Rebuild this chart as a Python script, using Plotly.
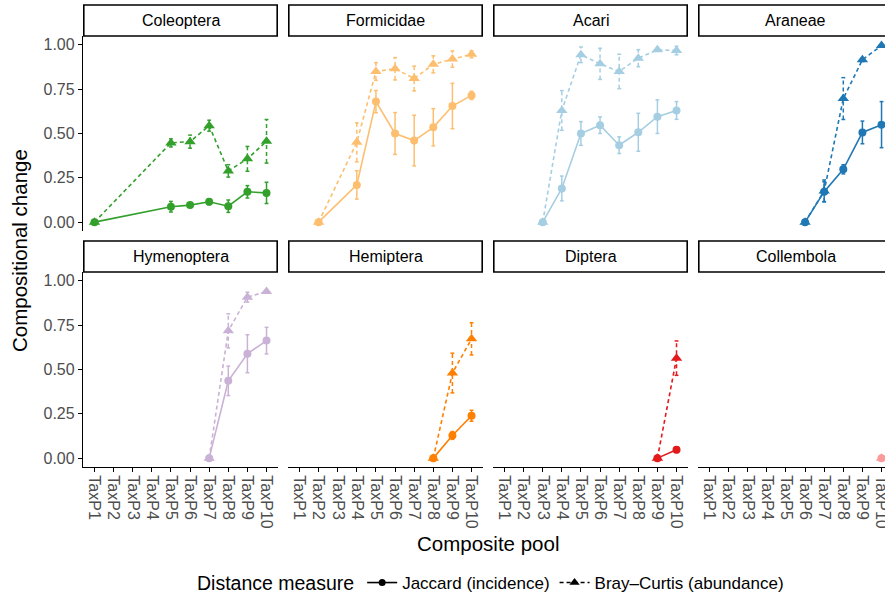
import plotly.graph_objects as go

# ---------------- data ----------------
pools = ["TaxP1", "TaxP2", "TaxP3", "TaxP4", "TaxP5", "TaxP6", "TaxP7", "TaxP8", "TaxP9", "TaxP10"]
taxa = ["Coleoptera", "Formicidae", "Acari", "Araneae",
        "Hymenoptera", "Hemiptera", "Diptera", "Collembola"]
y_ticks = [0, 0.25, 0.5, 0.75, 1.0]
y_tick_labels = ["0.00", "0.25", "0.50", "0.75", "1.00"]

coleoptera_pool = ["TaxP1", "TaxP5", "TaxP6", "TaxP7", "TaxP8", "TaxP9", "TaxP10"]
coleoptera_jac = [0, 0.087, 0.096, 0.115, 0.09, 0.171, 0.165]
coleoptera_jac_se = [0, 0.03, 0.01, 0.017, 0.035, 0.035, 0.06]
coleoptera_bc = [0, 0.447, 0.454, 0.544, 0.289, 0.357, 0.456]
coleoptera_bc_se = [0, 0.023, 0.037, 0.031, 0.035, 0.07, 0.123]

formicidae_pool = ["TaxP2", "TaxP4", "TaxP5", "TaxP6", "TaxP7", "TaxP8", "TaxP9", "TaxP10"]
formicidae_jac = [0, 0.21, 0.68, 0.50, 0.46, 0.535, 0.655, 0.715]
formicidae_jac_se = [0, 0.08, 0.063, 0.118, 0.143, 0.105, 0.128, 0.023]
formicidae_bc = [0, 0.45, 0.85, 0.865, 0.81, 0.89, 0.92, 0.947]
formicidae_bc_se = [0, 0.11, 0.05, 0.063, 0.07, 0.048, 0.046, 0.02]

acari_pool = ["TaxP3", "TaxP4", "TaxP5", "TaxP6", "TaxP7", "TaxP8", "TaxP9", "TaxP10"]
acari_jac = [0, 0.19, 0.50, 0.547, 0.434, 0.507, 0.595, 0.63]
acari_jac_se = [0, 0.07, 0.067, 0.047, 0.047, 0.107, 0.095, 0.05]
acari_bc = [0, 0.63, 0.944, 0.893, 0.85, 0.925, 0.972, 0.968]
acari_bc_se = [0, 0.112, 0.044, 0.088, 0.097, 0.048, 0.008, 0.024]

araneae_pool = ["TaxP6", "TaxP7", "TaxP8", "TaxP9", "TaxP10"]
araneae_jac = [0, 0.172, 0.298, 0.506, 0.55]
araneae_jac_se = [0, 0.056, 0.026, 0.064, 0.13]
araneae_bc = [0, 0.176, 0.697, 0.916, 0.996]
araneae_bc_se = [0, 0.062, 0.118, 0.01, 0.004]

hymenoptera_pool = ["TaxP7", "TaxP8", "TaxP9", "TaxP10"]
hymenoptera_jac = [0, 0.436, 0.589, 0.663]
hymenoptera_jac_se = [0, 0.083, 0.107, 0.075]
hymenoptera_bc = [0, 0.718, 0.908, 0.94]
hymenoptera_bc_se = [0, 0.096, 0.028, 0.005]

hemiptera_pool = ["TaxP8", "TaxP9", "TaxP10"]
hemiptera_jac = [0, 0.128, 0.239]
hemiptera_jac_se = [0, 0.022, 0.031]
hemiptera_bc = [0, 0.48, 0.673]
hemiptera_bc_se = [0, 0.112, 0.091]

diptera_pool = ["TaxP9", "TaxP10"]
diptera_jac = [0, 0.047]
diptera_jac_se = [0, 0.015]
diptera_bc = [0, 0.564]
diptera_bc_se = [0, 0.097]

collembola_pool = ["TaxP10"]
collembola_jac = [0]
collembola_jac_se = [0]
collembola_bc = [0]
collembola_bc_se = [0]

series = {
    "Coleoptera": (coleoptera_pool, coleoptera_jac, coleoptera_jac_se, coleoptera_bc, coleoptera_bc_se),
    "Formicidae": (formicidae_pool, formicidae_jac, formicidae_jac_se, formicidae_bc, formicidae_bc_se),
    "Acari": (acari_pool, acari_jac, acari_jac_se, acari_bc, acari_bc_se),
    "Araneae": (araneae_pool, araneae_jac, araneae_jac_se, araneae_bc, araneae_bc_se),
    "Hymenoptera": (hymenoptera_pool, hymenoptera_jac, hymenoptera_jac_se, hymenoptera_bc, hymenoptera_bc_se),
    "Hemiptera": (hemiptera_pool, hemiptera_jac, hemiptera_jac_se, hemiptera_bc, hemiptera_bc_se),
    "Diptera": (diptera_pool, diptera_jac, diptera_jac_se, diptera_bc, diptera_bc_se),
    "Collembola": (collembola_pool, collembola_jac, collembola_jac_se, collembola_bc, collembola_bc_se),
}

# ---------------- style ----------------
colors = {
    "Coleoptera": "#33a02c", "Formicidae": "#fdbf6f", "Acari": "#a6cee3", "Araneae": "#1f78b4",
    "Hymenoptera": "#cab2d6", "Hemiptera": "#ff7f00", "Diptera": "#e31a1c", "Collembola": "#fb9a99",
}
FONT = "Liberation Sans, Arial, sans-serif"
W, H = 885, 597
col_px = [(83, 278), (288, 483), (493, 688), (698, 893)]
row_px = [(36, 231), (272, 467)]      # plot area top/bottom in pixels
strip_h = 31
px_per_unit = 195 / 10.2
DASH = "4px,3px"
CAP = 0.1
TICK_SIZE = 16

fig = go.Figure()
layout = dict(
    width=W, height=H, margin=dict(l=0, r=0, t=0, b=0, autoexpand=False),
    paper_bgcolor="white", plot_bgcolor="white",
    font=dict(family=FONT, color="black"),
    shapes=[], annotations=[],
)

def xpos(p):
    return pools.index(p) + 1

for i, taxon in enumerate(taxa):
    r, c = divmod(i, 4)
    n = i + 1
    xa = "x" if n == 1 else f"x{n}"
    ya = "y" if n == 1 else f"y{n}"
    x0p, x1p = col_px[c]
    x1c = min(x1p, W)
    t, b = row_px[r]
    xr1 = 0.4 + (x1c - x0p) / px_per_unit
    layout[f"xaxis{'' if n == 1 else n}"] = dict(
        domain=[x0p / W, x1c / W], range=[0.4, xr1], anchor=ya, automargin=False,
        tickmode="array", tickvals=list(range(1, 11)), ticktext=pools,
        showgrid=False, zeroline=False,
        showline=(r == 1), linecolor="black", linewidth=1.3,
        ticks="outside" if r == 1 else "", ticklen=4, tickwidth=1.1, tickcolor="black",
        showticklabels=(r == 1), tickangle=90, ticklabeloverflow="allow",
        tickfont=dict(family=FONT, size=TICK_SIZE, color="#4d4d4d"),
    )
    layout[f"yaxis{'' if n == 1 else n}"] = dict(
        domain=[1 - b / H, 1 - t / H], range=[-0.05, 1.05], anchor=xa, automargin=False,
        tickmode="array", tickvals=y_ticks, ticktext=y_tick_labels,
        showgrid=False, zeroline=False,
        showline=(c == 0), linecolor="black", linewidth=1.3,
        ticks="outside" if c == 0 else "", ticklen=4, tickwidth=1.1, tickcolor="black",
        showticklabels=(c == 0),
        tickfont=dict(family=FONT, size=TICK_SIZE, color="#4d4d4d"),
    )
    # strip
    layout["shapes"].append(dict(
        type="rect", xref="paper", yref="paper",
        x0=(x0p + 0.8) / W, x1=(min(x1p, W + 10) - 0.8) / W,
        y0=1 - t / H, y1=1 - (t - strip_h) / H,
        line=dict(color="black", width=1.6), fillcolor="white", layer="above",
    ))
    layout["annotations"].append(dict(
        text=taxon, xref="paper", yref="paper",
        x=(x0p + x1p) / 2 / W, y=1 - (t - strip_h / 2) / H,
        showarrow=False, xanchor="center", yanchor="middle",
        font=dict(family=FONT, size=TICK_SIZE, color="black"),
    ))

    pool, jac, jac_se, bc, bc_se = series[taxon]
    xs = [xpos(p) for p in pool]
    col = colors[taxon]
    for vals, se, dash, sym, msize in [
        (jac, jac_se, "solid", "circle", 8),
        (bc, bc_se, DASH, "triangle-up", 10),
    ]:
        ex, ey = [], []
        for xv, v, s in zip(xs, vals, se):
            if s <= 0:
                continue
            lo, hi = v - s, v + s
            ex += [xv, xv, None, xv - CAP, xv + CAP, None, xv - CAP, xv + CAP, None]
            ey += [lo, hi, None, hi, hi, None, lo, lo, None]
        if ex:
            fig.add_trace(go.Scatter(
                x=ex, y=ey, xaxis=xa, yaxis=ya, mode="lines",
                line=dict(color=col, width=1.5, dash=dash),
                showlegend=False, hoverinfo="skip", cliponaxis=False,
            ))
        fig.add_trace(go.Scatter(
            x=xs, y=vals, xaxis=xa, yaxis=ya, mode="lines+markers",
            line=dict(color=col, width=1.6, dash=dash),
            marker=dict(symbol=sym, size=msize, color=col, line=dict(width=0)),
            showlegend=False, cliponaxis=False,
        ))

# legend entries
fig.add_trace(go.Scatter(
    x=[None], y=[None], mode="lines+markers", name="Jaccard (incidence)",
    line=dict(color="black", width=1.6), marker=dict(symbol="circle", size=7, color="black"),
))
fig.add_trace(go.Scatter(
    x=[None], y=[None], mode="lines+markers", name="Bray\u2013Curtis (abundance)",
    line=dict(color="black", width=1.6, dash=DASH), marker=dict(symbol="triangle-up", size=9, color="black"),
))

layout["legend"] = dict(
    orientation="h", xref="container", yref="container",
    x=492 / W, xanchor="center", y=1 - 583 / H, yanchor="middle",
    title=dict(text="Distance measure", side="left", font=dict(family=FONT, size=19.5, color="black")),
    font=dict(family=FONT, size=17, color="black"), bgcolor="rgba(0,0,0,0)",
    itemwidth=30, tracegroupgap=0,
)
layout["showlegend"] = True

# axis titles
layout["annotations"].append(dict(
    text="Composite pool", xref="paper", yref="paper", x=488 / W, y=1 - 543 / H,
    showarrow=False, xanchor="center", yanchor="middle",
    font=dict(family=FONT, size=20.5, color="black"),
))
layout["annotations"].append(dict(
    text="Compositional change", xref="paper", yref="paper", x=19 / W, y=1 - 251 / H,
    showarrow=False, xanchor="center", yanchor="middle", textangle=-90,
    font=dict(family=FONT, size=20.5, color="black"),
))

fig.update_layout(**layout)
fig.write_html("out.html")
